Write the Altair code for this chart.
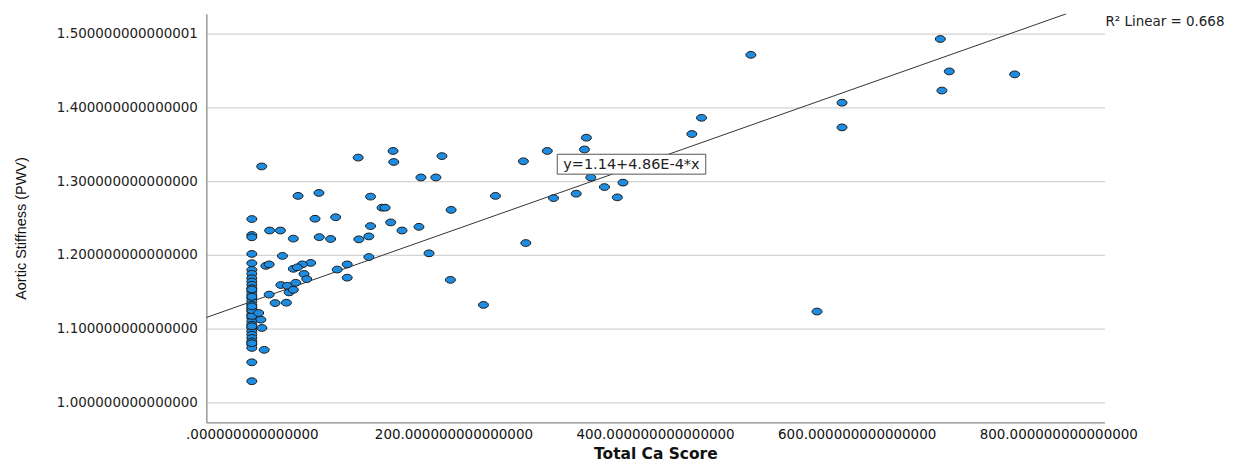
import pandas as pd
import altair as alt

# Total Ca Score = 0 column (Aortic Stiffness values)
zero_pwv = [1.2486, 1.2269, 1.2238, 1.2012, 1.1886, 1.1796, 1.1742, 1.1683, 1.1637, 1.1593,
            1.1548, 1.1502, 1.1457, 1.1413, 1.1367, 1.1322, 1.1277, 1.1231, 1.1187, 1.1142,
            1.1096, 1.1051, 1.1007, 1.0961, 1.0916, 1.0871, 1.0825, 1.0781, 1.0736, 1.0541,
            1.0284, 1.1030, 1.1170, 1.1250, 1.1300, 1.1430, 1.1530, 1.0800]

# the remaining patients
ca_score = [9.8, 105.5, 45.9, 66.6, 117.8, 129.2, 62.7, 83.2, 117.8, 17.7,
            28.4, 41.2, 66.9, 78.2, 106.2, 116.1, 30.4, 116.1, 13.9, 17.2,
            94.6, 58.4, 50.1, 41.2, 45.2, 84.7, 51.8, 94.6, 54.5, 28.8,
            35.3, 43.6, 37.0, 41.2, 17.2, 23.1, 34.3, 6.8, 9.0, 10.0,
            12.3, 140.1, 140.8, 188.6, 167.8, 182.6, 241.7, 132.2, 197.7, 137.8,
            149.0, 165.8, 175.8, 197.0, 269.4, 293.1, 299.3, 321.8, 330.0, 331.9,
            336.3, 349.8, 362.6, 368.2, 436.5, 446.1, 495.1, 271.8, 229.8, 560.7,
            683.0, 691.9, 756.8, 684.6, 585.5, 585.5]
pwv = [1.320, 1.332, 1.280, 1.284, 1.279, 1.264, 1.249, 1.251, 1.239, 1.233,
       1.233, 1.222, 1.224, 1.2215, 1.221, 1.225, 1.1985, 1.197, 1.185, 1.187,
       1.187, 1.189, 1.187, 1.181, 1.183, 1.180, 1.174, 1.169, 1.167, 1.159,
       1.158, 1.162, 1.149, 1.1525, 1.146, 1.1345, 1.135, 1.121, 1.112, 1.1007,
       1.071, 1.341, 1.326, 1.334, 1.305, 1.305, 1.280, 1.264, 1.261, 1.244,
       1.233, 1.238, 1.202, 1.166, 1.327, 1.341, 1.277, 1.283, 1.343, 1.359,
       1.305, 1.292, 1.278, 1.298, 1.364, 1.386, 1.4715, 1.216, 1.132, 1.123,
       1.493, 1.449, 1.445, 1.423, 1.4065, 1.373]

# fit line as drawn (y=1.14+4.86E-4*x), clipped at the frame
fit_x = [-45.1, 808.2]
fit_y = [1.1149, 1.5273]

x_ticks = [0, 200, 400, 600, 800]
x_labels = [".000000000000000", "200.000000000000000", "400.000000000000000",
            "600.000000000000000", "800.000000000000000"]
y_ticks = [1.0, 1.1, 1.2, 1.3, 1.4, 1.5]
y_labels = ["1.000000000000000", "1.100000000000000", "1.200000000000000",
            "1.300000000000000", "1.400000000000000", "1.500000000000001"]

equation = "y=1.14+4.86E-4*x"
r2_text = "R\u00b2 Linear = 0.668"

x_domain = [-45.1, 845.8]
y_domain = [0.9725, 1.5273]

points = pd.DataFrame({
    'x': [0.0] * len(zero_pwv) + ca_score,
    'y': zero_pwv + pwv,
})
fit = pd.DataFrame({'x': fit_x, 'y': fit_y})
eq_box = pd.DataFrame({'x': [303.0], 'x2': [450.3], 'y': [1.3365], 'y2': [1.3095]})
eq_lbl = pd.DataFrame({'x': [376.6], 'y': [1.3225], 't': [equation]})
r2_lbl = pd.DataFrame({'x': [846.8], 'y': [1.5165], 't': [r2_text]})

x_expr = "[" + ",".join("'%s'" % s for s in x_labels) + "][round(datum.value/200)]"
y_expr = "[" + ",".join("'%s'" % s for s in y_labels) + "][round((datum.value-1)*10)]"

xs = alt.Scale(domain=x_domain, nice=False, zero=False)
ys = alt.Scale(domain=y_domain, nice=False, zero=False)

scatter = alt.Chart(points).mark_point(
    shape="M-1,0A1,0.68,0,1,0,1,0A1,0.68,0,1,0,-1,0Z",
    size=100, filled=True, fill='#1e8ce0', stroke='#1a1a1a', strokeWidth=1, opacity=1
).encode(
    x=alt.X('x:Q', scale=xs, axis=alt.Axis(
        values=x_ticks, labelExpr=x_expr, grid=False, ticks=False, labelPadding=5,
        labelFont='DejaVu Sans', labelFontSize=13.5, labelColor='#111',
        domainColor='#8a8a8a', domainWidth=1.3,
        title='Total Ca Score', titleFont='DejaVu Sans', titleFontSize=15.5,
        titleFontWeight='bold', titleColor='#111', titleY=31, titleBaseline='middle')),
    y=alt.Y('y:Q', scale=ys, axis=alt.Axis(
        values=y_ticks, labelExpr=y_expr, grid=True, gridColor='#d4d4d4', gridWidth=1.2,
        ticks=False, labelPadding=9, labelFont='DejaVu Sans', labelFontSize=13.5,
        labelColor='#222', domainColor='#8a8a8a', domainWidth=1.3,
        title='Aortic Stiffness (PWV)', titleFont='Liberation Sans', titleFontSize=14.5,
        titleFontWeight='normal', titleColor='#111', titleAngle=270, titleX=-185,
        titleY=215, titleAlign='center', titleBaseline='middle'))
)

line = alt.Chart(fit).mark_line(color='#333', strokeWidth=1, clip=True).encode(
    x='x:Q', y='y:Q')

box = alt.Chart(eq_box).mark_rect(fill='white', stroke='#555', strokeWidth=1).encode(
    x='x:Q', x2='x2', y='y:Q', y2='y2')

eq_text = alt.Chart(eq_lbl).mark_text(
    font='DejaVu Sans', fontSize=14.5, color='#222', align='center', baseline='middle'
).encode(x='x:Q', y='y:Q', text='t:N')

r2 = alt.Chart(r2_lbl).mark_text(
    font='DejaVu Sans', fontSize=13.5, color='#222', align='left', baseline='middle'
).encode(x='x:Q', y='y:Q', text='t:N')

chart = alt.layer(line, scatter, box, eq_text, r2).properties(
    width=901, height=410,
    autosize=alt.AutoSizeParams(type='none'),
    padding={'left': 199, 'top': 5, 'right': 130, 'bottom': 40},
).configure_view(stroke=None)

chart.save("out.html", embed_options={"renderer": "svg", "actions": False})
